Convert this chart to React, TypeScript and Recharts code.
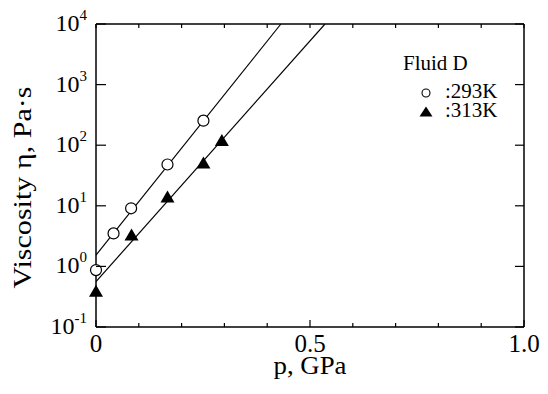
import React from "react";
import { ComposedChart, Scatter, Line, XAxis, YAxis, Legend } from "recharts";

const FONT = '"Liberation Serif", "Times New Roman", Times, serif';

// Fluid D viscosity vs pressure
const p293 = [0, 0.041, 0.082, 0.167, 0.251];
const eta293 = [0.87, 3.5, 9.1, 48, 254];
const p313 = [0, 0.083, 0.167, 0.251, 0.294];
const eta313 = [0.39, 3.3, 14, 51, 119];

// straight-line fits (end points)
const fitP293 = [0, 0.432];
const fitEta293 = [1.54, 10000];
const fitP313 = [0, 0.535];
const fitEta313 = [0.56, 10000];

const pTicks = [0, 0.1, 0.2, 0.3, 0.4, 0.5, 0.6, 0.7, 0.8, 0.9, 1.0];
const pTickLabels: Record<string, string> = { "0": "0", "0.5": "0.5", "1": "1.0" };
const etaTicks = [0.1, 1, 10, 100, 1000, 10000];
const etaExponents = ["-1", "0", "1", "2", "3", "4"];

const fluidName = "Fluid D";
const name293 = ":293K";
const name313 = ":313K";

const rows = (ps: number[], etas: number[]) => ps.map((p, i) => ({ p, eta: etas[i] }));

const W = 540;
const H = 386;
const M = 10; // tickMargin on every axis
const axisLine = { stroke: "#000", strokeWidth: 1.5 };

const circleShape = (r: number) => (props: any) => (
  <circle cx={props.cx} cy={props.cy} r={r} fill="#fff" stroke="#000" strokeWidth={1.2} />
);

const triangleShape = (hw: number, up: number, down: number) => (props: any) => {
  const { cx, cy } = props;
  return (
    <polygon
      points={`${cx},${cy - up} ${cx + hw},${cy + down} ${cx - hw},${cy + down}`}
      fill="#000"
    />
  );
};

const LeftTick = (props: any) => {
  const { x, y, payload } = props;
  const x0 = x + M;
  const exp = etaExponents[etaTicks.indexOf(payload.value)];
  return (
    <g>
      <line x1={x0} x2={x0 + 10} y1={y} y2={y} stroke="#000" strokeWidth={1.2} />
      <text x={x0 - 9} y={y + 7} textAnchor="end" fontFamily={FONT} fontSize={24} fill="#000">
        10
        <tspan dy={-11} fontSize={15}>
          {exp}
        </tspan>
      </text>
    </g>
  );
};

const RightTick = (props: any) => {
  const { x, y } = props;
  const x0 = x - M;
  return <line x1={x0} x2={x0 - 9} y1={y} y2={y} stroke="#000" strokeWidth={1.2} />;
};

const BottomTick = (props: any) => {
  const { x, y, payload } = props;
  const y0 = y - M;
  const label = pTickLabels[String(payload.value)];
  return (
    <g>
      <line x1={x} x2={x} y1={y0} y2={y0 - (label ? 7 : 4)} stroke="#000" strokeWidth={1.2} />
      {label && (
        <text x={x} y={y0 + 25} textAnchor="middle" fontFamily={FONT} fontSize={25} fill="#000">
          {label}
        </text>
      )}
    </g>
  );
};

const TopTick = (props: any) => {
  const { x, y } = props;
  const y0 = y + M;
  return <line x1={x} x2={x} y1={y0} y2={y0 + 4} stroke="#000" strokeWidth={1.2} />;
};

const YTitle = (props: any) => {
  const vb = props.viewBox ?? { x: 28, y: 16, width: 60, height: 303 };
  const cx = vb.x - 5;
  const cy = vb.y + vb.height / 2 + 12;
  return (
    <text
      x={cx}
      y={cy}
      transform={`rotate(-90 ${cx} ${cy})`}
      textAnchor="middle"
      fontFamily={FONT}
      fontSize={25}
      textLength={202}
      lengthAdjust="spacingAndGlyphs"
      fill="#000"
    >
      Viscosity η, Pa·s
    </text>
  );
};

const XTitle = (props: any) => {
  const vb = props.viewBox ?? { x: 88, y: 319, width: 428, height: 30 };
  return (
    <text
      x={vb.x + vb.width / 2}
      y={vb.y + 47}
      textAnchor="middle"
      fontFamily={FONT}
      fontSize={25}
      textLength={73}
      lengthAdjust="spacingAndGlyphs"
      fill="#000"
    >
      p, GPa
    </text>
  );
};

const legendMarkers: Record<string, (cx: number, cy: number) => React.ReactNode> = {
  [name293]: (cx, cy) => <circle cx={cx} cy={cy} r={4} fill="#fff" stroke="#000" strokeWidth={1.1} />,
  [name313]: (cx, cy) => (
    <polygon points={`${cx},${cy - 5.5} ${cx + 6.5},${cy + 4.5} ${cx - 6.5},${cy + 4.5}`} fill="#000" />
  ),
};

const LegendBox = (props: any) => {
  const items = (props.payload ?? []).filter((e: any) => legendMarkers[e.value]);
  return (
    <svg width={120} height={80} style={{ display: "block", overflow: "visible" }}>
      <text x={10} y={22} fontFamily={FONT} fontSize={21} fill="#000">
        {fluidName}
      </text>
      {items.map((e: any, i: number) => {
        const cy = 45 + i * 19;
        return (
          <g key={e.value}>
            {legendMarkers[e.value](33, cy)}
            <text x={52} y={cy + 5.3} fontFamily={FONT} fontSize={21} fill="#000">
              {e.value}
            </text>
          </g>
        );
      })}
    </svg>
  );
};

export default function App() {
  return (
    <ComposedChart width={W} height={H} margin={{ top: 15, right: 23, left: 28, bottom: 37 }}>
      <XAxis
        dataKey="p"
        type="number"
        domain={[0, 1]}
        ticks={pTicks}
        interval={0}
        height={30}
        tickSize={0}
        tickMargin={M}
        tickLine={false}
        axisLine={axisLine}
        tick={BottomTick}
        label={XTitle}
      />
      {/* top and right axes share the same domains; they carry the inner frame ticks */}
      <XAxis
        xAxisId="top"
        orientation="top"
        dataKey="p"
        type="number"
        domain={[0, 1]}
        allowDataOverflow
        ticks={pTicks}
        interval={0}
        height={1}
        tickSize={0}
        tickMargin={M}
        tickLine={false}
        axisLine={axisLine}
        tick={TopTick}
      />
      <YAxis
        type="number"
        scale="log"
        domain={[0.1, 10000]}
        ticks={etaTicks}
        interval={0}
        width={60}
        tickSize={0}
        tickMargin={M}
        tickLine={false}
        axisLine={axisLine}
        tick={LeftTick}
        label={YTitle}
      />
      <YAxis
        yAxisId="right"
        orientation="right"
        type="number"
        scale="log"
        domain={[0.1, 10000]}
        allowDataOverflow
        ticks={etaTicks}
        interval={0}
        width={1}
        tickSize={0}
        tickMargin={M}
        tickLine={false}
        axisLine={axisLine}
        tick={RightTick}
      />
      <Line
        data={rows(fitP293, fitEta293)}
        dataKey="eta"
        type="linear"
        stroke="#000"
        strokeWidth={1.2}
        dot={false}
        legendType="none"
        isAnimationActive={false}
      />
      <Line
        xAxisId="top"
        yAxisId="right"
        data={rows(fitP313, fitEta313)}
        dataKey="eta"
        type="linear"
        stroke="#000"
        strokeWidth={1.2}
        dot={false}
        legendType="none"
        isAnimationActive={false}
      />
      <Scatter
        name={name293}
        data={rows(p293, eta293)}
        dataKey="eta"
        shape={circleShape(5.5)}
        isAnimationActive={false}
      />
      <Scatter
        name={name313}
        data={rows(p313, eta313)}
        dataKey="eta"
        shape={triangleShape(7, 6.5, 5.5)}
        isAnimationActive={false}
      />
      <Legend
        layout="vertical"
        align="center"
        verticalAlign="middle"
        wrapperStyle={{ left: 385, top: 40, width: 120, height: 80 }}
        content={LegendBox}
      />
    </ComposedChart>
  );
}
